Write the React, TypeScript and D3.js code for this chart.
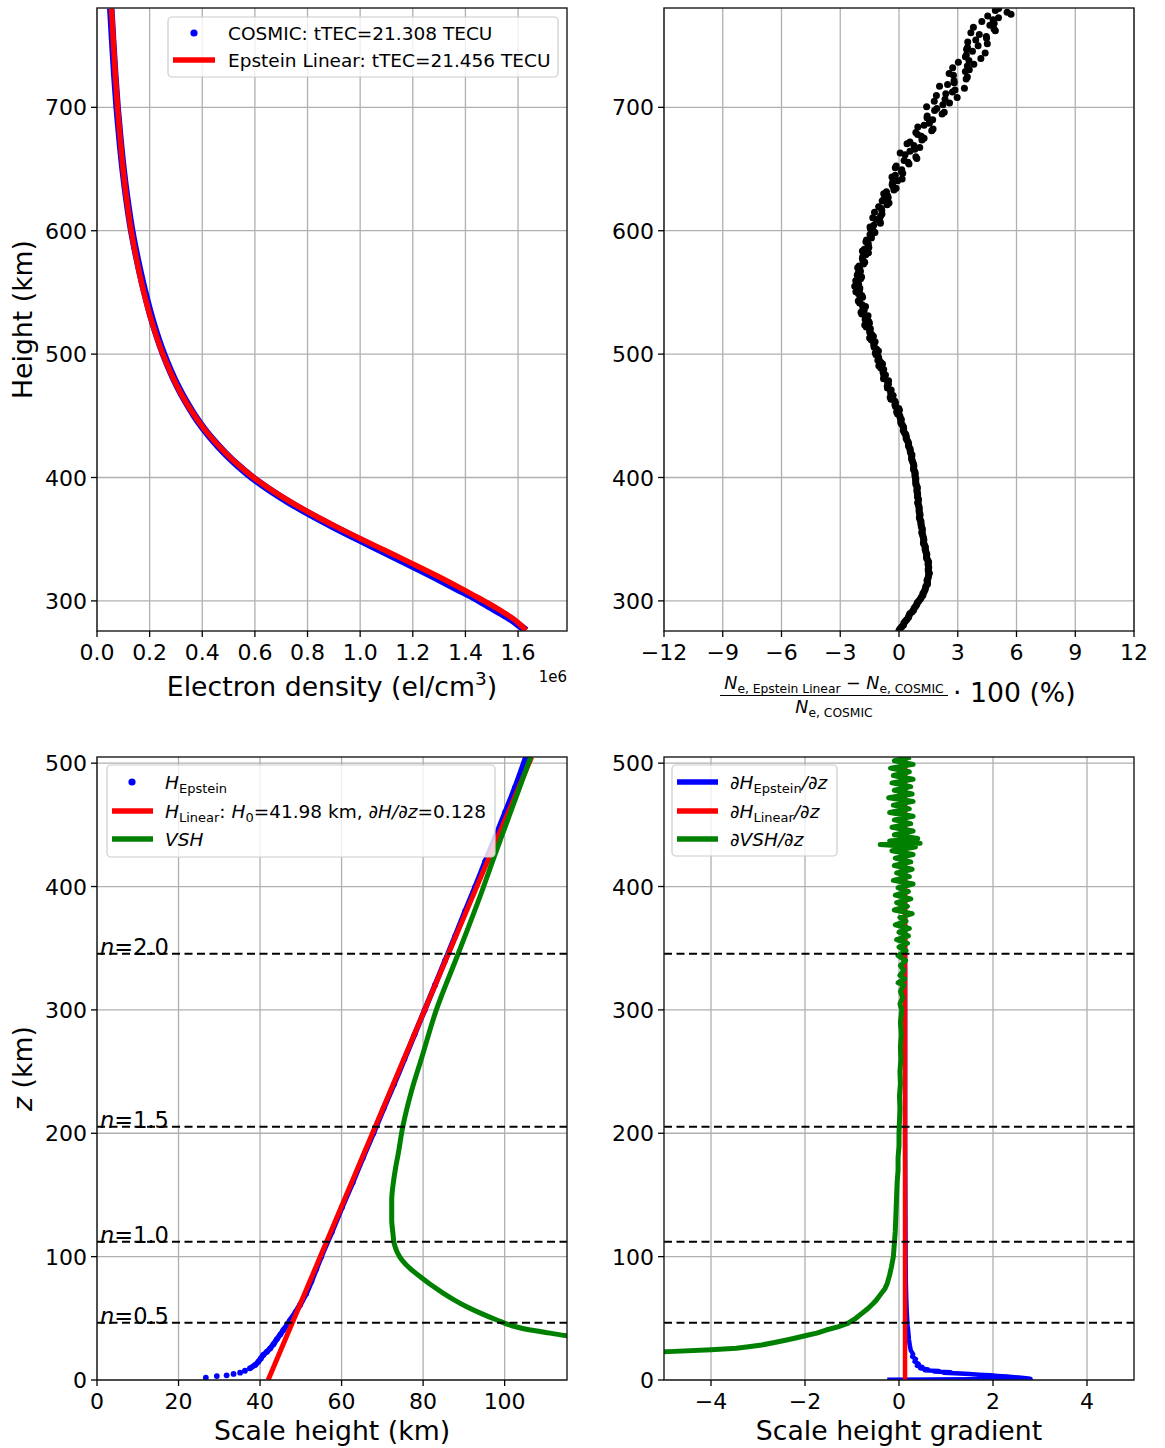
import React from "react";
import * as d3 from "d3";

// ---------------- DATA ----------------
// Top-left: electron density profiles (Ne in units of 1e6 el/cm^3)
const densityHeightKm = [276, 280, 285, 290, 295, 300, 310, 320, 330, 340, 350, 360, 370, 380, 390, 400, 410, 420, 430, 440, 450, 460, 475, 500, 525, 550, 575, 600, 625, 650, 675, 700, 725, 750, 780];
const epsteinNe = [1.63, 1.612, 1.585, 1.55, 1.512, 1.47, 1.385, 1.295, 1.2, 1.103, 1.005, 0.91, 0.82, 0.737, 0.662, 0.595, 0.538, 0.488, 0.444, 0.405, 0.371, 0.341, 0.302, 0.25, 0.21, 0.178, 0.152, 0.13, 0.113, 0.099, 0.088, 0.078, 0.07, 0.063, 0.055];
const cosmicNe = [1.63, 1.6056, 1.574, 1.536, 1.4948, 1.4554, 1.3666, 1.2759, 1.1824, 1.0882, 0.9927, 0.8997, 0.8114, 0.7298, 0.656, 0.59, 0.5341, 0.4851, 0.4421, 0.4041, 0.3709, 0.3419, 0.3038, 0.2529, 0.2133, 0.1817, 0.1549, 0.1318, 0.1139, 0.099, 0.087, 0.0765, 0.068, 0.0606, 0.0523];

// Top-right: relative difference (%), two interleaved sample sets
const diffHeightKmA = [276, 279, 282, 285, 288, 291, 294, 297, 300, 303, 306, 309, 312, 315, 318, 321, 324, 327, 330, 333, 336, 339, 342, 345, 348, 351, 354, 357, 360, 363, 366, 369, 372, 375, 378, 381, 384, 387, 390, 393, 396, 399, 402, 405, 408, 411, 414, 417, 420, 423, 426, 429, 432, 435, 438, 441, 444, 447, 450, 453, 456, 459, 462, 465, 468, 471, 474, 477, 480, 483, 486, 489, 492, 495, 498, 501, 504, 507, 510, 513, 516, 519, 522, 525, 528, 531, 534, 537, 540, 543, 546, 549, 552, 555, 558, 561, 564, 567, 570, 573, 576, 579, 582, 585, 588, 591, 594, 597, 600, 603, 606, 609, 612, 615, 618, 621, 624, 627, 630, 633, 636, 639, 642, 645, 648, 651, 654, 657, 660, 663, 666, 669, 672, 675, 678, 681, 684, 687, 690, 693, 696, 699, 702, 705, 708, 711, 714, 717, 720, 723, 726, 729, 732, 735, 738, 741, 744, 747, 750, 753, 756, 759, 762, 765, 768, 771, 774, 777, 780];
const diffPctA = [0.0, 0.14, 0.25, 0.4, 0.51, 0.66, 0.77, 0.91, 1.01, 1.14, 1.22, 1.33, 1.38, 1.45, 1.47, 1.51, 1.5, 1.52, 1.48, 1.47, 1.41, 1.39, 1.33, 1.31, 1.26, 1.25, 1.2, 1.19, 1.14, 1.12, 1.07, 1.07, 1.03, 1.03, 0.99, 0.99, 0.95, 0.95, 0.91, 0.91, 0.86, 0.86, 0.81, 0.8, 0.75, 0.74, 0.67, 0.65, 0.59, 0.57, 0.48, 0.46, 0.36, 0.34, 0.22, 0.23, 0.1, 0.12,
  0.04, -0.12, -0.01, -0.21, -0.22, -0.45, -0.41, -0.4, -0.6, -0.58, -0.79, -0.69, -0.82, -0.94, -0.84, -1.08, -1.06, -1.21, -1.14, -1.28, -1.22, -1.5, -1.4, -1.5,
  -1.67, -1.51, -1.73, -1.58, -1.94, -1.84, -1.88, -2.08, -1.86, -2.07, -2.01, -2.26, -2.1, -1.96, -2.13, -1.97, -2.11, -1.81, -1.84, -1.85, -1.56, -1.77, -1.58, -1.69, -1.41, -1.48,
  -1.32, -1.48, -0.95, -1.17, -0.94, -1.25, -0.9, -0.61, -0.86, -0.55, -0.78, -0.26, -0.31, -0.33, 0.16, -0.19, 0.12, -0.19, 0.51, 0.26, 0.86, 0.06, 0.81, 0.76, 0.56, 1.28, 0.95, 1.67, 0.96, 1.55, 1.72, 1.44, 2.31, 1.93,
  2.24, 1.8, 2.97, 2.39, 2.86, 2.07, 2.82, 3.43, 2.78, 3.39, 2.74, 3.82, 3.57, 3.39, 4.4, 3.45, 4.04, 3.51, 4.47, 4.1, 4.92, 3.8, 4.86, 4.8, 4.53, 5.52, 5.09];
const diffHeightKmB = [277.5, 280.5, 283.5, 286.5, 289.5, 292.5, 295.5, 298.5, 301.5, 304.5, 307.5, 310.5, 313.5, 316.5, 319.5, 322.5, 325.5, 328.5, 331.5, 334.5, 337.5, 340.5, 343.5, 346.5, 349.5, 352.5, 355.5, 358.5, 361.5, 364.5, 367.5, 370.5, 373.5, 376.5, 379.5, 382.5, 385.5, 388.5, 391.5, 394.5, 397.5, 400.5, 403.5, 406.5, 409.5, 412.5, 415.5, 418.5, 421.5, 424.5, 427.5, 430.5, 433.5, 436.5, 439.5, 442.5, 445.5, 448.5, 451.5, 454.5, 457.5, 460.5, 463.5, 466.5, 469.5, 472.5, 475.5, 478.5, 481.5, 484.5, 487.5, 490.5, 493.5, 496.5, 499.5, 502.5, 505.5, 508.5, 511.5, 514.5, 517.5, 520.5, 523.5, 526.5, 529.5, 532.5, 535.5, 538.5, 541.5, 544.5, 547.5, 550.5, 553.5, 556.5, 559.5, 562.5, 565.5, 568.5, 571.5, 574.5, 577.5, 580.5, 583.5, 586.5, 589.5, 592.5, 595.5, 598.5, 601.5, 604.5, 607.5, 610.5, 613.5, 616.5, 619.5, 622.5, 625.5, 628.5, 631.5, 634.5, 637.5, 640.5, 643.5, 646.5, 649.5, 652.5, 655.5, 658.5, 661.5, 664.5, 667.5, 670.5, 673.5, 676.5, 679.5, 682.5, 685.5, 688.5, 691.5, 694.5, 697.5, 700.5, 703.5, 706.5, 709.5, 712.5, 715.5, 718.5, 721.5, 724.5, 727.5, 730.5, 733.5, 736.5, 739.5, 742.5, 745.5, 748.5, 751.5, 754.5, 757.5, 760.5, 763.5, 766.5, 769.5, 772.5, 775.5, 778.5];
const diffPctB = [0.05, 0.23, 0.32, 0.48, 0.55, 0.74, 0.84, 0.93, 1.09, 1.22, 1.28, 1.35, 1.45, 1.43, 1.5, 1.55, 1.49, 1.5, 1.51, 1.41, 1.42, 1.36, 1.35, 1.25, 1.27, 1.22, 1.16, 1.19, 1.13, 1.12, 1.04, 1.07, 1.03, 1.02, 0.95, 0.99, 0.95, 0.92, 0.94, 0.86, 0.85, 0.83, 0.83, 0.74, 0.76, 0.7, 0.64, 0.66, 0.57, 0.52, 0.49, 0.4, 0.37, 0.27, 0.24, 0.17, 0.09, 0.06,
  -0.07, 0.02, -0.18, -0.18, -0.41, -0.3, -0.43, -0.59, -0.54, -0.53, -0.77, -0.8, -0.78, -1.03, -0.93, -1.03, -1.17, -1.05, -1.27, -1.29, -1.41, -1.31, -1.49,
  -1.46, -1.75, -1.54, -1.69, -1.9, -1.78, -1.71, -2.01, -2.01, -1.9, -2.2, -2.0, -2.06, -2.21, -1.91, -2.09, -2.0, -2.04, -1.75, -1.87, -1.7, -1.87, -1.54, -1.57, -1.66, -1.42, -1.23,
  -1.46, -1.29, -0.97, -1.34, -0.87, -0.88, -1.04, -0.51, -0.78, -0.59, -0.64, -0.15, -0.35, -0.07, -0.36, 0.19, 0.14,
  -0.14, 0.46, 0.91, 0.31, 0.56, 1.06, 0.41, 1.17, 1.14, 0.86, 1.74, 1.28, 1.56, 1.43, 2.2, 1.82,
  1.41, 2.58, 2.35, 1.91, 2.73, 3.34, 2.48, 2.81, 3.49, 2.56, 3.59, 3.49, 3.03, 4.18, 3.44, 3.75, 3.5, 4.51, 3.92, 4.46, 3.67, 4.85, 4.64, 4.23, 5.08, 5.72, 4.92];

// Bottom-left: scale heights (km) vs z (km)
const epsteinZ = [1.9, 3.2, 3.8, 4.9, 5.9, 7.5, 9.5, 12.2, 14.9, 17.5, 20.3, 23, 25.7, 29, 33, 37, 40.5, 45, 48.6, 55, 60.8, 70, 80, 90, 100, 120, 140, 160, 180, 200, 220, 240, 260, 280, 300, 320, 340, 360, 380, 400, 420, 440, 460, 480, 505];
const epsteinH = [26.7, 29.4, 31.8, 33.5, 35.1, 36.3, 37.5, 38.8, 39.6, 40.2, 40.8, 41.7, 42.5, 43.3, 44.1, 45.0, 45.7, 46.7, 47.4, 48.7, 49.8, 51.3, 52.6, 53.8, 55.0, 57.6, 60.1, 62.7, 65.2, 67.8, 70.3, 72.9, 75.4, 77.9, 80.4, 82.9, 85.4, 87.9, 90.3, 92.8, 95.2, 97.7, 100.1, 102.5, 105.2];
const linearZ = [0, 505];
const linearH = [41.98, 106.62];
const vshZ = [33.5, 35.7, 38, 40.5, 44, 48.6, 54, 59.4, 65, 70.3, 77, 83.7, 90, 97.2, 104, 110.8, 118.9, 130, 145.9, 160, 172.9, 183.4, 205, 234.8, 261.7, 299.6, 345.5, 396.8, 423.8, 450.8, 477.8, 505];
const vshH = [122, 115.6, 111.2, 106.3, 101.8, 98.1, 94.2, 90.7, 87.6, 85.0, 82.0, 79.3, 76.9, 74.8, 73.6, 72.9, 72.6, 72.3, 72.3, 72.7, 73.3, 73.9, 75.0, 77.2, 79.7, 83.2, 88.6, 94.5, 97.4, 100.4, 103.4, 106.4];

// Bottom-right: scale height gradients
const gradEpsteinZ = [0.3, 0.8, 1.3, 1.8, 2.3, 2.8, 3.3, 3.8, 4.3, 4.8, 5.3, 5.8, 6.3, 6.8, 7.3, 7.8, 8.5, 9.5, 10.5, 11.5, 13, 15, 17, 19, 21, 24, 28, 33, 38, 45, 55, 65, 80, 100, 150, 200, 300, 400, 505];
const gradEpstein = [-0.25, 2.8, 2.75, 2.6, 2.45, 2.3, 2.1, 1.95, 1.7, 1.5, 1.3, 0.95, 1.1, 0.75, 0.85, 0.55, 0.62, 0.45, 0.5, 0.38, 0.42, 0.33, 0.36, 0.28, 0.3, 0.25, 0.23, 0.21, 0.2, 0.18, 0.165, 0.155, 0.145, 0.14, 0.135, 0.13, 0.13, 0.128, 0.125];
const gradLinearZ = [0, 505];
const gradLinear = [0.128, 0.128];
const gradVshZ = [21, 23, 24.5, 25.7, 27, 28.4, 30, 32.4, 34, 36.5, 38, 40.5, 43, 45.9, 50, 54, 58, 62, 64.8, 70, 74, 78.3, 85, 91.8, 100, 110, 120, 130, 140, 150, 160, 170, 180, 190, 200, 210, 220, 230, 240, 250, 260, 270, 280, 290, 300, 305, 310, 315, 320, 322, 325, 328, 332, 336, 340, 344, 348, 351, 354, 357, 360, 363, 366, 369, 372, 375, 378, 381, 384, 387, 390, 393, 396, 399, 402, 405, 408, 411, 414, 417, 420, 423, 426, 429, 432, 434, 435, 437, 439, 442, 445, 448, 451, 454, 457, 460, 463, 466, 469, 472, 475, 478, 481, 484, 487, 490, 493, 496, 499, 502, 505];
const gradVsh = [-6.0, -4.9, -4.0, -3.46, -3.2, -2.92, -2.7, -2.39, -2.2, -1.93, -1.75, -1.55, -1.3, -1.09, -0.92, -0.79, -0.66, -0.55, -0.48, -0.38, -0.3, -0.25, -0.2, -0.16, -0.12, -0.1, -0.08, -0.07, -0.06, -0.05, -0.04, -0.02, -0.02, 0.0, 0.0, 0.01, 0.02, 0.01, 0.03, 0.02, 0.04, 0.03, 0.05, 0.03, 0.06, 0.02, 0.08, 0.03, 0.1, -0.02, 0.12, 0.02, 0.1, 0.03, 0.14, -0.02, 0.15, 0.0, 0.18, -0.05, 0.2, 0.0, 0.22, -0.08, 0.15, 0.02, 0.28, -0.1, 0.18, -0.05, 0.25, -0.08, 0.2, -0.02, 0.3, -0.12, 0.22, -0.05, 0.28, -0.1, 0.25, -0.08, 0.3, -0.15, 0.35, -0.4, 0.45, -0.2, 0.4, -0.1, 0.3, -0.15, 0.25, -0.1, 0.3, -0.2, 0.22, -0.12, 0.3, -0.22, 0.28, -0.1, 0.25, -0.15, 0.3, -0.12, 0.22, -0.18, 0.3, -0.1, 0.25];

// Reference levels n
const nLabels = ["0.5", "1.0", "1.5", "2.0"];
const nLevelZ = [46.4, 112.1, 205.2, 345.5];

// Ticks
const densityTicks = [0, 0.2, 0.4, 0.6, 0.8, 1.0, 1.2, 1.4, 1.6];
const heightTicks = [300, 400, 500, 600, 700];
const diffTicks = [-12, -9, -6, -3, 0, 3, 6, 9, 12];
const scaleHeightTicks = [0, 20, 40, 60, 80, 100];
const zTicks = [0, 100, 200, 300, 400, 500];
const gradTicks = [-4, -2, 0, 2, 4];

// ---------------- STYLE ----------------
const FONT = "'DejaVu Sans', sans-serif";
const GRID = "#b0b0b0";
const BLUE = "#0000ff";
const RED = "#ff0000";
const GREEN = "#008000";
const TICK_FS = 22;
const LABEL_FS = 26.7;

const minus = (s: string) => s.replace("-", "\u2212");

type Scale = d3.ScaleLinear<number, number>;

function Panel(props: {
  id: string;
  x: Scale;
  y: Scale;
  xTicks: number[];
  yTicks: number[];
  xFmt: (v: number) => string;
  yFmt: (v: number) => string;
  children?: React.ReactNode;
}) {
  const { id, x, y, xTicks, yTicks, xFmt, yFmt, children } = props;
  const [x0, x1] = x.range();
  const [y1, y0] = y.range();
  return (
    <g>
      <defs>
        <clipPath id={id}>
          <rect x={x0} y={y0} width={x1 - x0} height={y1 - y0} />
        </clipPath>
      </defs>
      <rect x={x0} y={y0} width={x1 - x0} height={y1 - y0} fill="#fff" />
      {xTicks.map((t) => (
        <line key={"gx" + t} x1={x(t)} x2={x(t)} y1={y0} y2={y1} stroke={GRID} strokeWidth={1.3} />
      ))}
      {yTicks.map((t) => (
        <line key={"gy" + t} x1={x0} x2={x1} y1={y(t)} y2={y(t)} stroke={GRID} strokeWidth={1.3} />
      ))}
      <g clipPath={`url(#${id})`}>{children}</g>
      <rect x={x0} y={y0} width={x1 - x0} height={y1 - y0} fill="none" stroke="#1a1a1a" strokeWidth={1.4} />
      {xTicks.map((t) => (
        <g key={"tx" + t}>
          <line x1={x(t)} x2={x(t)} y1={y1} y2={y1 + 6} stroke="#000" strokeWidth={1.3} />
          <text x={x(t)} y={y1 + 28.5} textAnchor="middle" fontSize={TICK_FS} fontFamily={FONT}>
            {xFmt(t)}
          </text>
        </g>
      ))}
      {yTicks.map((t) => (
        <g key={"ty" + t}>
          <line x1={x0 - 6} x2={x0} y1={y(t)} y2={y(t)} stroke="#000" strokeWidth={1.3} />
          <text x={x0 - 10} y={y(t) + 8} textAnchor="end" fontSize={TICK_FS} fontFamily={FONT}>
            {yFmt(t)}
          </text>
        </g>
      ))}
    </g>
  );
}

function LegendBox({ x, y, w, h }: { x: number; y: number; w: number; h: number }) {
  return <rect x={x} y={y} width={w} height={h} rx={4} fill="#fff" fillOpacity={0.8} stroke="#cccccc" strokeWidth={1.2} />;
}

export default function App() {
  const yTop = d3.scaleLinear().domain([275.6, 780.5]).range([631, 8]);
  const yBot = d3.scaleLinear().domain([0, 505]).range([1380, 757]);
  const xTL = d3.scaleLinear().domain([0, 1.786]).range([97, 567]);
  const xTR = d3.scaleLinear().domain([-12, 12]).range([664, 1134]);
  const xBL = d3.scaleLinear().domain([0, 115.3]).range([97, 567]);
  const xBR = d3.scaleLinear().domain([-5, 5]).range([664, 1134]);

  const densityLine = (vals: number[]) =>
    d3
      .line<number>()
      .x((d) => xTL(d))
      .y((_, i) => yTop(densityHeightKm[i]))
      .curve(d3.curveMonotoneY)(vals) || "";

  const pairLine = (xs: number[], zs: number[], sx: Scale, sy: Scale, curve: d3.CurveFactory) =>
    d3
      .line<number>()
      .x((d) => sx(d))
      .y((_, i) => sy(zs[i]))
      .curve(curve)(xs) || "";

  const blueLineStart = 6;
  const epsteinHLine = pairLine(epsteinH.slice(blueLineStart), epsteinZ.slice(blueLineStart), xBL, yBot, d3.curveMonotoneY);

  const leg = 18.5;
  const sub = 13;

  return (
    <svg width={1165} height={1448} style={{ position: "absolute", left: 0, top: 0, background: "#fff" }} fontFamily={FONT}>
      <rect x={0} y={0} width={1165} height={1448} fill="#fff" />

      {/* ---------- Top-left ---------- */}
      <Panel id="c-tl" x={xTL} y={yTop} xTicks={densityTicks} yTicks={heightTicks} xFmt={(v) => v.toFixed(1)} yFmt={(v) => String(v)}>
        <path d={densityLine(cosmicNe)} fill="none" stroke={BLUE} strokeWidth={7.5} strokeLinejoin="round" />
        <path d={densityLine(epsteinNe)} fill="none" stroke={RED} strokeWidth={5.5} strokeLinejoin="round" />
      </Panel>
      <LegendBox x={168} y={17} w={390} h={60} />
      <circle cx={194} cy={33} r={3.6} fill={BLUE} />
      <text x={228} y={39.5} fontSize={leg}>COSMIC: tTEC=21.308 TECU</text>
      <line x1={173} x2={215} y1={60} y2={60} stroke={RED} strokeWidth={5.5} />
      <text x={228} y={66.5} fontSize={leg}>Epstein Linear: tTEC=21.456 TECU</text>
      <text x={332} y={696} textAnchor="middle" fontSize={LABEL_FS}>
        Electron density (el/cm<tspan fontSize={18.5} dy={-11}>3</tspan>
        <tspan dy={11}>)</tspan>
      </text>
      <text x={567} y={682} textAnchor="end" fontSize={15}>1e6</text>
      <text transform="translate(32,319.5) rotate(-90)" textAnchor="middle" fontSize={LABEL_FS}>Height (km)</text>

      {/* ---------- Top-right ---------- */}
      <Panel id="c-tr" x={xTR} y={yTop} xTicks={diffTicks} yTicks={heightTicks} xFmt={(v) => minus(String(v))} yFmt={(v) => String(v)}>
        {diffPctA.map((v, i) => (
          <circle key={"a" + i} cx={xTR(v)} cy={yTop(diffHeightKmA[i])} r={3.5} fill="#000" />
        ))}
        {diffPctB.map((v, i) => (
          <circle key={"b" + i} cx={xTR(v)} cy={yTop(diffHeightKmB[i])} r={3.5} fill="#000" />
        ))}
      </Panel>
      <text x={834} y={689} textAnchor="middle" fontSize={17.5}>
        <tspan fontStyle="italic">N</tspan>
        <tspan fontSize={12.3} dy={4}>e, Epstein Linear</tspan>
        <tspan dy={-4}>{" \u2212 "}</tspan>
        <tspan fontStyle="italic">N</tspan>
        <tspan fontSize={12.3} dy={4}>e, COSMIC</tspan>
      </text>
      <line x1={720} x2={948} y1={695.5} y2={695.5} stroke="#000" strokeWidth={1.2} />
      <text x={834} y={713} textAnchor="middle" fontSize={17.5}>
        <tspan fontStyle="italic">N</tspan>
        <tspan fontSize={12.3} dy={4}>e, COSMIC</tspan>
      </text>
      <text x={953} y={702} fontSize={LABEL_FS}>{"\u00b7 100 (%)"}</text>

      {/* ---------- Bottom-left ---------- */}
      <Panel id="c-bl" x={xBL} y={yBot} xTicks={scaleHeightTicks} yTicks={zTicks} xFmt={(v) => String(v)} yFmt={(v) => String(v)}>
        <path d={epsteinHLine} fill="none" stroke={BLUE} strokeWidth={5.5} strokeLinejoin="round" />
        {epsteinH.map((v, i) => (
          <circle key={i} cx={xBL(v)} cy={yBot(epsteinZ[i])} r={2.9} fill={BLUE} />
        ))}
        <path d={pairLine(linearH, linearZ, xBL, yBot, d3.curveLinear)} fill="none" stroke={RED} strokeWidth={5} />
        <path d={pairLine(vshH, vshZ, xBL, yBot, d3.curveMonotoneY)} fill="none" stroke={GREEN} strokeWidth={5} strokeLinejoin="round" />
        {nLevelZ.map((z) => (
          <line key={z} x1={97} x2={567} y1={yBot(z)} y2={yBot(z)} stroke="#000" strokeWidth={2} strokeDasharray="8,4.5" />
        ))}
      </Panel>
      {nLevelZ.map((z, i) => (
        <text key={"nl" + i} x={100} y={yBot(z) + 1} fontSize={22.5}>
          <tspan fontStyle="italic">n</tspan>={nLabels[i]}
        </text>
      ))}
      <LegendBox x={107} y={765} w={388} h={92} />
      <circle cx={132} cy={782} r={3.6} fill={BLUE} />
      <text x={165} y={789} fontSize={leg}>
        <tspan fontStyle="italic">H</tspan>
        <tspan fontSize={sub} dy={4}>Epstein</tspan>
      </text>
      <line x1={112} x2={153} y1={811} y2={811} stroke={RED} strokeWidth={5.5} />
      <text x={165} y={817.5} fontSize={leg}>
        <tspan fontStyle="italic">H</tspan>
        <tspan fontSize={sub} dy={4}>Linear</tspan>
        <tspan dy={-4}>{": "}</tspan>
        <tspan fontStyle="italic">H</tspan>
        <tspan fontSize={sub} dy={4}>0</tspan>
        <tspan dy={-4}>{"=41.98 km, "}</tspan>
        <tspan fontStyle="italic">{"\u2202H/\u2202z"}</tspan>
        <tspan>=0.128</tspan>
      </text>
      <line x1={112} x2={153} y1={839} y2={839} stroke={GREEN} strokeWidth={5.5} />
      <text x={165} y={845.5} fontSize={leg}>
        <tspan fontStyle="italic">VSH</tspan>
      </text>
      <text x={332} y={1440} textAnchor="middle" fontSize={LABEL_FS}>Scale height (km)</text>
      <text transform="translate(32,1068.5) rotate(-90)" textAnchor="middle" fontSize={LABEL_FS}>
        <tspan fontStyle="italic">z</tspan> (km)
      </text>

      {/* ---------- Bottom-right ---------- */}
      <Panel id="c-br" x={xBR} y={yBot} xTicks={gradTicks} yTicks={zTicks} xFmt={(v) => minus(String(v))} yFmt={(v) => String(v)}>
        <path d={pairLine(gradEpstein, gradEpsteinZ, xBR, yBot, d3.curveLinear)} fill="none" stroke={BLUE} strokeWidth={4.5} strokeLinejoin="round" />
        <path d={pairLine(gradLinear, gradLinearZ, xBR, yBot, d3.curveLinear)} fill="none" stroke={RED} strokeWidth={4.5} />
        <path d={pairLine(gradVsh, gradVshZ, xBR, yBot, d3.curveLinear)} fill="none" stroke={GREEN} strokeWidth={5} strokeLinejoin="round" />
        {nLevelZ.map((z) => (
          <line key={z} x1={664} x2={1134} y1={yBot(z)} y2={yBot(z)} stroke="#000" strokeWidth={2} strokeDasharray="8,4.5" />
        ))}
      </Panel>
      <LegendBox x={672} y={765} w={165} h={91} />
      <line x1={677} x2={718} y1={782} y2={782} stroke={BLUE} strokeWidth={5.5} />
      <text x={730} y={788.5} fontSize={leg}>
        <tspan fontStyle="italic">{"\u2202H"}</tspan>
        <tspan fontSize={sub} dy={4}>Epstein</tspan>
        <tspan dy={-4} fontStyle="italic">{"/\u2202z"}</tspan>
      </text>
      <line x1={677} x2={718} y1={811} y2={811} stroke={RED} strokeWidth={5.5} />
      <text x={730} y={817.5} fontSize={leg}>
        <tspan fontStyle="italic">{"\u2202H"}</tspan>
        <tspan fontSize={sub} dy={4}>Linear</tspan>
        <tspan dy={-4} fontStyle="italic">{"/\u2202z"}</tspan>
      </text>
      <line x1={677} x2={718} y1={839} y2={839} stroke={GREEN} strokeWidth={5.5} />
      <text x={730} y={845.5} fontSize={leg}>
        <tspan fontStyle="italic">{"\u2202VSH/\u2202z"}</tspan>
      </text>
      <text x={899} y={1440} textAnchor="middle" fontSize={LABEL_FS}>Scale height gradient</text>
    </svg>
  );
}
